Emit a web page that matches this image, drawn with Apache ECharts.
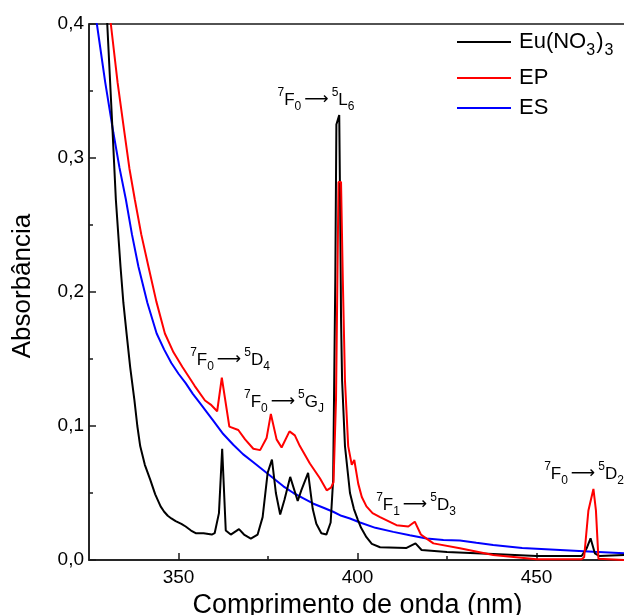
<!DOCTYPE html>
<html>
<head>
<meta charset="utf-8">
<script src="https://cdn.jsdelivr.net/npm/echarts@6/dist/echarts.min.js"></script>
<style>
  html, body { margin: 0; padding: 0; background: #fff; }
  #chart { width: 624px; height: 615px; }
</style>
</head>
<body>
<div id="chart"></div>
<script>
// Absorption spectra: europium nitrate, EP and ES samples
const seriesNames = ['Eu(NO3)3', 'EP', 'ES'];

const euWavelength = [329.0, 330.1, 331.6, 332.5, 333.8, 334.6, 335.5, 336.5, 337.7, 338.5, 339.3, 340.6, 342.1, 343.5, 345.0, 346.0, 347.0, 348.0, 349.2, 350.8, 352.0, 353.5, 354.8, 357.0, 359.3, 360.1, 361.3, 362.2, 363.2, 364.6, 366.9, 368.3, 370.2, 372.1, 373.5, 374.9, 376.1, 377.2, 378.4, 379.6, 381.2, 383.3, 384.3, 386.2, 387.5, 388.5, 389.9, 391.3, 392.5, 393.2, 393.8, 394.1, 394.9, 395.2, 395.4, 395.7, 396.5, 397.9, 399.0, 400.1, 401.0, 402.5, 404.0, 406.3, 413.7, 416.2, 417.9, 425.0, 437.9, 450.0, 462.6, 464.0, 465.1, 466.3, 467.5, 475.0];
const euAbs = [0.46, 0.40, 0.319, 0.269, 0.219, 0.192, 0.169, 0.144, 0.119, 0.100, 0.085, 0.071, 0.060, 0.049, 0.040, 0.036, 0.033, 0.031, 0.029, 0.027, 0.025, 0.022, 0.020, 0.020, 0.019, 0.020, 0.035, 0.083, 0.022, 0.019, 0.023, 0.019, 0.016, 0.019, 0.032, 0.065, 0.075, 0.050, 0.034, 0.045, 0.062, 0.044, 0.052, 0.065, 0.038, 0.027, 0.020, 0.019, 0.028, 0.060, 0.210, 0.325, 0.332, 0.250, 0.180, 0.134, 0.085, 0.050, 0.038, 0.030, 0.024, 0.017, 0.012, 0.0095, 0.009, 0.0124, 0.0075, 0.006, 0.0045, 0.003, 0.003, 0.0087, 0.0162, 0.005, 0.003, 0.0037];

const epWavelength = [328.5, 331.1, 333.0, 334.9, 336.3, 337.8, 339.6, 341.6, 343.8, 346.2, 348.6, 351.1, 354.5, 357.4, 359.0, 360.8, 362.1, 364.2, 366.7, 368.6, 370.9, 372.8, 374.6, 375.8, 377.4, 378.8, 381.0, 382.5, 383.9, 386.7, 389.5, 391.4, 392.6, 393.3, 394.0, 394.7, 395.4, 395.9, 396.5, 397.4, 398.4, 399.1, 400.2, 401.2, 402.5, 404.2, 406.3, 410.9, 414.2, 416.0, 417.7, 419.3, 421.2, 428.6, 437.9, 450.0, 462.6, 463.3, 464.5, 465.9, 466.6, 467.3, 475.0];
const epAbs = [0.46, 0.40, 0.356, 0.319, 0.292, 0.269, 0.243, 0.219, 0.193, 0.169, 0.155, 0.144, 0.130, 0.119, 0.116, 0.111, 0.136, 0.0995, 0.097, 0.090, 0.083, 0.082, 0.091, 0.109, 0.090, 0.084, 0.096, 0.093, 0.085, 0.072, 0.061, 0.052, 0.054, 0.058, 0.120, 0.282, 0.282, 0.209, 0.134, 0.085, 0.071, 0.0746, 0.057, 0.047, 0.040, 0.035, 0.032, 0.026, 0.025, 0.0286, 0.019, 0.016, 0.0124, 0.0087, 0.0037, 0.0005, 0.0005, 0.002, 0.037, 0.053, 0.037, 0.001, 0.0];

const esWavelength = [325.0, 327.2, 329.5, 331.8, 333.5, 335.3, 337.0, 338.8, 341.3, 343.9, 346.0, 348.0, 350.0, 352.0, 354.0, 356.0, 358.0, 359.7, 362.5, 365.3, 368.0, 370.9, 373.7, 376.5, 379.3, 382.1, 384.9, 387.7, 390.5, 393.2, 395.5, 397.9, 400.7, 405.0, 410.0, 414.6, 419.3, 424.0, 428.6, 433.2, 437.9, 446.0, 456.6, 465.9, 475.0];
const esAbs = [0.445, 0.40, 0.357, 0.319, 0.293, 0.269, 0.243, 0.219, 0.192, 0.169, 0.157, 0.147, 0.139, 0.132, 0.124, 0.117, 0.110, 0.104, 0.094, 0.086, 0.079, 0.073, 0.067, 0.061, 0.055, 0.050, 0.046, 0.042, 0.039, 0.036, 0.033, 0.031, 0.028, 0.024, 0.021, 0.0185, 0.016, 0.015, 0.0145, 0.0128, 0.0112, 0.009, 0.0075, 0.0062, 0.005];

const xTicks = [350, 400, 450];
const xMinorTicks = [375, 425];

const zip = (xs, ys) => xs.map((x, i) => [x, ys[i]]);

const FONT = '"Liberation Sans", Arial, "DejaVu Sans", sans-serif';
const ARROW_FONT = '"DejaVu Sans", "Liberation Sans", sans-serif';
const AXIS_COLOR = '#1a1a1a';

// rich-text styles for spectroscopic term symbols (superscript multiplicity, subscript J)
const termRich = {
  m: { fontSize: 17, lineHeight: 26, fontFamily: FONT, color: '#000', verticalAlign: 'middle' },
  ar: { fontSize: 17, lineHeight: 26, fontFamily: ARROW_FONT, color: '#000', verticalAlign: 'middle', padding: [0, 3, 0, 3] },
  sup: { fontSize: 12, lineHeight: 20, fontFamily: FONT, color: '#000', verticalAlign: 'top' },
  sub: { fontSize: 12, lineHeight: 17, fontFamily: FONT, color: '#000', verticalAlign: 'bottom' }
};
function term(lowerJ, upperL, upperJ) {
  return '{sup|7}{m|F}{sub|' + lowerJ + '}{ar|\u27F6}{sup|5}{m|' + upperL + '}{sub|' + upperJ + '}';
}
const transitions = [
  { text: term('0', 'L', '6'), x: 316, y: 100 },
  { text: term('0', 'D', '4'), x: 230, y: 360 },
  { text: term('0', 'G', 'J'), x: 284, y: 402 },
  { text: term('1', 'D', '3'), x: 416, y: 505 },
  { text: term('0', 'D', '2'), x: 584, y: 474 }
];

const chart = echarts.init(document.getElementById('chart'), null, { renderer: 'canvas' });

const option = {
  animation: false,
  backgroundColor: '#fff',
  grid: {
    left: 89, top: 24, right: -2, bottom: 55,
    outerBoundsMode: 'none',
    containLabel: false,
    show: true, borderColor: AXIS_COLOR, borderWidth: 1.5, backgroundColor: 'transparent'
  },
  legend: {
    orient: 'vertical',
    left: 457, top: 31,
    padding: 0,
    itemWidth: 54, itemHeight: 2, itemGap: 8,
    icon: 'rect',
    data: seriesNames,
    formatter: name => name === 'Eu(NO3)3' ? '{a|Eu(NO}{s|3}{c|)}{s|3}' : '{b|' + name + '}',
    textStyle: {
      color: '#000',
      fontFamily: FONT,
      rich: {
        a: { fontSize: 22, lineHeight: 34, fontFamily: FONT, color: '#000', verticalAlign: 'middle', padding: [0, 0, 0, 3] },
        c: { fontSize: 22, lineHeight: 34, fontFamily: FONT, color: '#000', verticalAlign: 'middle', padding: [0, 1, 0, 1] },
        s: { fontSize: 16, lineHeight: 25, fontFamily: FONT, color: '#000', verticalAlign: 'bottom' },
        b: { fontSize: 22, lineHeight: 22, fontFamily: FONT, color: '#000', padding: [0, 0, 0, 3] }
      }
    }
  },
  xAxis: [
    {
      type: 'value',
      min: 325, max: 475,
      name: 'Comprimento de onda (nm)',
      nameLocation: 'middle',
      nameGap: 24,
      nameTextStyle: { fontSize: 27, fontFamily: FONT, color: '#000' },
      axisLine: { show: true, lineStyle: { color: AXIS_COLOR, width: 1.5 } },
      axisTick: { show: true, inside: true, length: 7, customValues: xTicks, lineStyle: { color: AXIS_COLOR, width: 1.5 } },
      axisLabel: { show: true, customValues: xTicks, fontSize: 19, fontFamily: FONT, color: '#000', margin: 8 },
      splitLine: { show: false }
    },
    {
      type: 'value',
      min: 325, max: 475,
      position: 'bottom',
      axisLine: { show: false },
      axisTick: { show: true, inside: true, length: 4, customValues: xMinorTicks, lineStyle: { color: AXIS_COLOR, width: 1.5 } },
      axisLabel: { show: false },
      splitLine: { show: false }
    }
  ],
  yAxis: {
    type: 'value',
    min: 0, max: 0.4, interval: 0.1,
    name: 'Absorbância',
    nameLocation: 'middle',
    nameGap: 53,
    nameTextStyle: { fontSize: 26, fontFamily: FONT, color: '#000', padding: [0, 0, 0, 12] },
    axisLine: { show: true, lineStyle: { color: AXIS_COLOR, width: 1.5 } },
    axisTick: { show: true, inside: true, length: 7, lineStyle: { color: AXIS_COLOR, width: 1.5 } },
    minorTick: { show: true, splitNumber: 2, length: 4, lineStyle: { color: AXIS_COLOR, width: 1.5 } },
    axisLabel: {
      fontSize: 19, fontFamily: FONT, color: '#000', margin: 5,
      formatter: v => v.toFixed(1).replace('.', ',')
    },
    splitLine: { show: false }
  },
  graphic: transitions.map(t => ({
    type: 'text',
    x: t.x, y: t.y,
    style: { text: t.text, rich: termRich, align: 'center', verticalAlign: 'middle', fill: '#000' },
    z: 100
  })),
  series: [
    { name: 'Eu(NO3)3', type: 'line', data: zip(euWavelength, euAbs), showSymbol: false, lineStyle: { color: '#000000', width: 2 }, itemStyle: { color: '#000000' }, clip: true, z: 3 },
    { name: 'EP', type: 'line', data: zip(epWavelength, epAbs), showSymbol: false, lineStyle: { color: '#ff0000', width: 2 }, itemStyle: { color: '#ff0000' }, clip: true, z: 4 },
    { name: 'ES', type: 'line', data: zip(esWavelength, esAbs), showSymbol: false, lineStyle: { color: '#0000ff', width: 2 }, itemStyle: { color: '#0000ff' }, clip: true, z: 2 }
  ]
};

chart.setOption(option);
</script>
</body>
</html>
